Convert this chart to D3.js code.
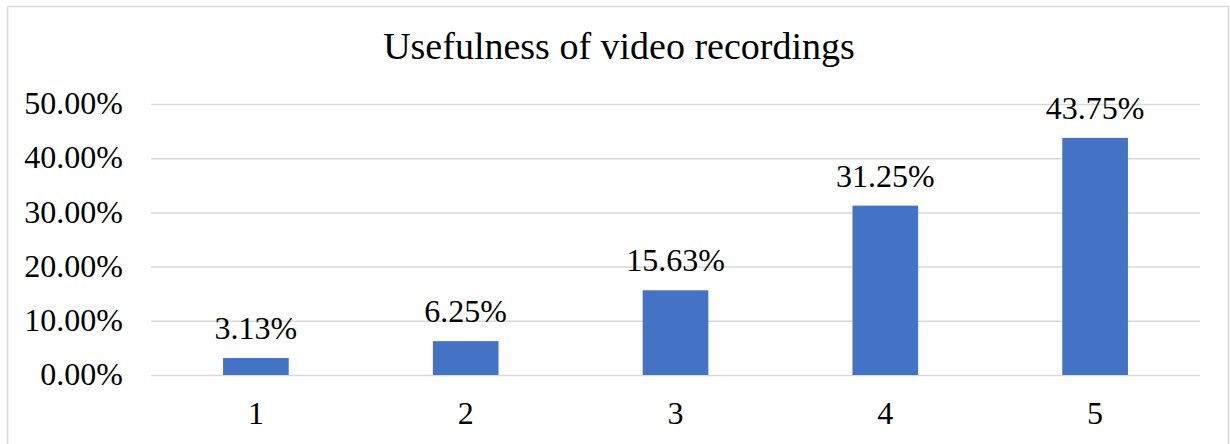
<!DOCTYPE html>
<html>
<head>
<meta charset="utf-8">
<script src="https://cdn.jsdelivr.net/npm/d3@7"></script>
<style>
  body { margin: 0; background: #fff; }
  svg text { font-family: "Liberation Serif", "Times New Roman", serif; fill: #000; }
</style>
</head>
<body>
<svg id="chart" width="1230" height="444"></svg>
<script>
// données du graphique
var categories = ["1", "2", "3", "4", "5"];
var values = [3.13, 6.25, 15.63, 31.25, 43.75];
var yTicks = [0, 10, 20, 30, 40, 50];
var titre = "Usefulness of video recordings";

var svg = d3.select("#chart");

// cadre du graphique
svg.append("rect")
  .attr("x", 7.5).attr("y", 6.5)
  .attr("width", 1221).attr("height", 445)
  .attr("fill", "#fff")
  .attr("stroke", "#d9d9d9")
  .attr("stroke-width", 1.5);

// limites de la zone de tracé
var plotLeft = 151, plotRight = 1200, plotTop = 104, plotBottom = 375;

var xScale = d3.scaleBand().domain(categories).range([plotLeft, plotRight])
  .paddingInner(0.687).paddingOuter(0.3435);
var yScale = d3.scaleLinear().domain([0, 50]).range([plotBottom, plotTop]);

// titre
svg.append("text")
  .attr("x", 619)
  .attr("y", 59)
  .attr("text-anchor", "middle")
  .style("font-size", "38px")
  .text(titre);

// axe des ordonnées avec grille
var yAxis = svg.append("g")
  .attr("transform", `translate(${plotLeft}, 0)`)
  .call(d3.axisLeft(yScale).tickValues(yTicks)
    .tickSize(-(plotRight - plotLeft))
    .tickPadding(28)
    .tickFormat(d => d.toFixed(2) + "%"));
yAxis.select(".domain").remove();
yAxis.selectAll(".tick line").attr("stroke", "#d9d9d9").attr("stroke-width", 1.5);
yAxis.selectAll(".tick text")
  .attr("dy", "0.3em")
  .style("font-size", "32px")
  .style("font-family", "'Liberation Serif', 'Times New Roman', serif");

// axe des abscisses
var xAxis = svg.append("g")
  .attr("transform", `translate(0, ${plotBottom})`)
  .call(d3.axisBottom(xScale).tickSize(0).tickPadding(26));
xAxis.select(".domain").remove();
xAxis.selectAll(".tick text")
  .attr("dy", "0.71em")
  .style("font-size", "32px")
  .style("font-family", "'Liberation Serif', 'Times New Roman', serif");

var data = categories.map((c, i) => ({cat: c, val: values[i]}));

// barres
svg.selectAll("rect.bar")
  .data(data)
  .enter().append("rect")
  .attr("class", "bar")
  .attr("x", d => xScale(d.cat))
  .attr("y", d => yScale(d.val))
  .attr("width", xScale.bandwidth())
  .attr("height", d => yScale(0) - yScale(d.val))
  .attr("fill", "#4472c4");

// étiquettes de valeurs
svg.selectAll("text.lbl")
  .data(data)
  .enter().append("text")
  .attr("class", "lbl")
  .attr("x", d => xScale(d.cat) + xScale.bandwidth() / 2)
  .attr("y", d => yScale(d.val) - 19)
  .attr("text-anchor", "middle")
  .style("font-size", "32px")
  .text(d => d.val.toFixed(2) + "%");
</script>
</body>
</html>
